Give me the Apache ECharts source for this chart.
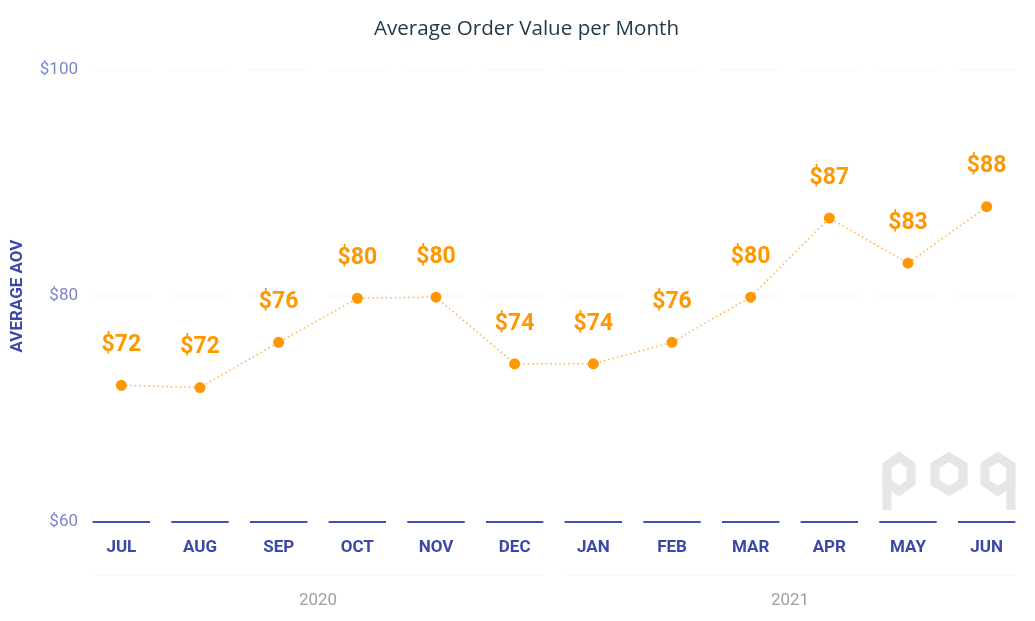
<!DOCTYPE html>
<html><head><meta charset="utf-8">
<script src="https://cdn.jsdelivr.net/npm/echarts@6/dist/echarts.min.js"></script>
<style>html,body{margin:0;padding:0;background:#fff}#c{width:1035px;height:621px}</style>
</head><body><div id="c"></div>
<script>
const months = ['JUL','AUG','SEP','OCT','NOV','DEC','JAN','FEB','MAR','APR','MAY','JUN'];
const aov = [72.1, 71.9, 75.9, 79.8, 79.9, 74.0, 74.0, 75.9, 79.9, 86.9, 82.9, 87.9];
const years = ['2020','2021'];
const yearSpans = [[0,5],[6,11]];
const yTicks = [60, 80, 100];

const chart = echarts.init(document.getElementById('c'));
const FONT = 'Roboto';
const SEG = 0.73;

// watermark logo (decorative hexagon letters)
function hex(l, r, t, b) {
  const cx = (l + r) / 2, q = (b - t) / 4;
  return [[cx, t], [r, t + q], [r, b - q], [cx, b], [l, b - q], [l, t + q]];
}
const LOGO = '#e6e6e6', LW = 9;
const logo = [
  { type: 'polygon', shape: { points: hex(887, 911, 457, 491) }, style: { fill: 'none', stroke: LOGO, lineWidth: LW } },
  { type: 'line', shape: { x1: 887, y1: 475, x2: 887, y2: 510 }, style: { stroke: LOGO, lineWidth: LW } },
  { type: 'polygon', shape: { points: hex(935, 963, 457, 491) }, style: { fill: 'none', stroke: LOGO, lineWidth: LW } },
  { type: 'polygon', shape: { points: hex(985, 1011, 457, 491) }, style: { fill: 'none', stroke: LOGO, lineWidth: LW } },
  { type: 'line', shape: { x1: 1011, y1: 475, x2: 1011, y2: 510 }, style: { stroke: LOGO, lineWidth: LW } }
].map(e => Object.assign(e, { z: -1, silent: true }));

chart.setOption({
  animation: false,
  title: {
    text: 'Average Order Value per Month', left: 369, top: 14,
    textStyle: { fontFamily: 'Open Sans', fontSize: 20.6, fontWeight: 'normal', color: '#22394a' }
  },
  grid: { left: 82, right: 9, top: 70, bottom: 99, outerBoundsMode: 'none' },
  xAxis: [{
    type: 'category', data: months, boundaryGap: true,
    axisLine: { show: false }, axisTick: { show: false }, splitLine: { show: false },
    axisLabel: { margin: 17, fontFamily: FONT, fontSize: 17, fontWeight: 'bold', color: '#3a48a8' }
  }, {
    type: 'category', data: years, position: 'bottom', offset: 53,
    axisLine: { show: false }, axisTick: { show: false }, splitLine: { show: false },
    axisLabel: { margin: 17, fontFamily: FONT, fontSize: 17, color: '#a0a0a0' }
  }],
  yAxis: {
    type: 'value', min: yTicks[0], max: yTicks[yTicks.length-1], interval: 20,
    name: 'AVERAGE AOV', nameLocation: 'middle', nameGap: 56, nameRotate: 90,
    nameTextStyle: { fontFamily: FONT, fontSize: 17, fontWeight: 'bold', color: '#3a48a8' },
    axisLine: { show: false }, axisTick: { show: false }, splitLine: { show: false },
    axisLabel: { margin: 4, fontFamily: FONT, fontSize: 17, color: '#7b86c9', formatter: v => '$' + v }
  },
  graphic: logo,
  series: [{
    type: 'custom', xAxisIndex: 0, silent: true, z: 1,
    data: months.map((m, i) => [i, yTicks[0]]),
    encode: { x: 0, y: 1 },
    renderItem: (params, api) => {
      const i = api.value(0);
      const w = api.size([1, 0])[0] * SEG;
      const children = [];
      yTicks.forEach((t, k) => {
        const p = api.coord([i, t]);
        if (k === 0) {
          children.push({ type: 'line', shape: { x1: p[0]-w/2, y1: p[1], x2: p[0]+w/2, y2: p[1] },
            style: { stroke: '#3f51b5', lineWidth: 2 } });
        } else {
          children.push({ type: 'line', shape: { x1: p[0]-w/2, y1: p[1], x2: p[0]+w/2, y2: p[1] },
            style: { stroke: '#d8d8d8', lineWidth: 1, lineDash: [1, 3] } });
        }
      });
      return { type: 'group', children };
    }
  }, {
    type: 'custom', xAxisIndex: 0, silent: true, z: 1,
    data: yearSpans.map(s => [s[0], s[1], yTicks[0]]),
    encode: { x: [0, 1], y: 2 },
    renderItem: (params, api) => {
      const w = api.size([1, 0])[0] * SEG;
      const a = api.coord([api.value(0), api.value(2)]);
      const b = api.coord([api.value(1), api.value(2)]);
      const y = a[1] + 53;
      return { type: 'line', shape: { x1: a[0]-w/2, y1: y, x2: b[0]+w/2, y2: y },
        style: { stroke: '#d8d8d8', lineWidth: 1, lineDash: [1, 3] } };
    }
  }, {
    type: 'line', data: aov, z: 3,
    symbol: 'circle', symbolSize: 11,
    itemStyle: { color: '#ff9800' },
    lineStyle: { color: '#ffb04a', width: 1.5, type: [1.5, 3] },
    label: {
      show: true, position: 'top', distance: 23,
      fontFamily: FONT, fontSize: 23, fontWeight: 'bold', color: '#ff9800',
      formatter: p => '$' + Math.round(p.value)
    }
  }]
});
</script></body></html>
